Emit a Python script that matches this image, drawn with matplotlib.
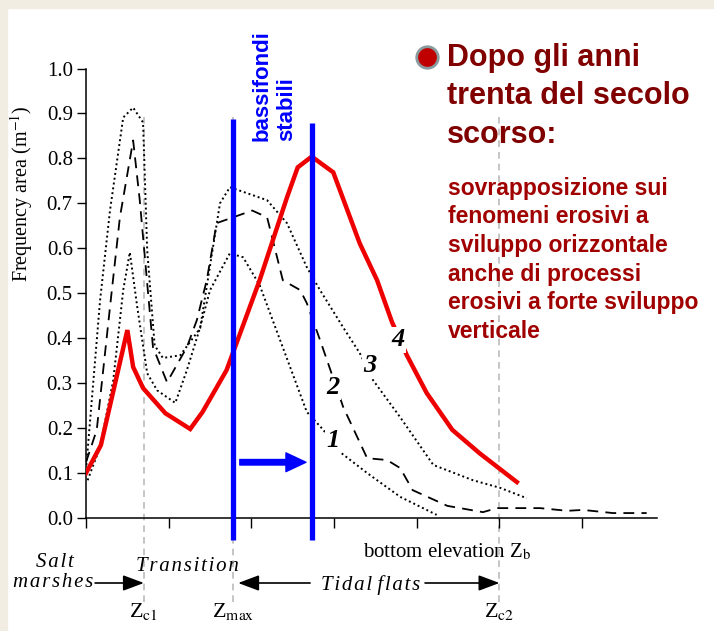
import numpy as np
import matplotlib.pyplot as plt
from matplotlib.lines import Line2D
from matplotlib.patches import Rectangle

plt.rcParams['mathtext.fontset'] = 'stix'
SERIF = 'Liberation Serif'
SANS = 'Liberation Sans'
SERIF_LIST = [SERIF, 'DejaVu Serif']

# bottom elevation, one tick = one unit
z_c1, z_max, z_c2 = 0.70, 1.78, 5.0
stable_lo, stable_hi = 1.78, 2.73

# curve 1 (dotted)
x1 = [0.02, 0.17, 0.33, 0.45, 0.53, 0.62, 0.74, 0.86, 1.08, 1.22, 1.38, 1.50,
      1.74, 1.90, 2.10, 2.67, 2.87, 3.07, 3.40, 3.80, 4.24]
y1 = [0.084, 0.158, 0.307, 0.507, 0.591, 0.469, 0.322, 0.284, 0.256, 0.329,
      0.424, 0.507, 0.589, 0.580, 0.518, 0.236, 0.196, 0.147, 0.100, 0.047, 0.007]

# curve 2 (dashed)
x2 = [0.0, 0.13, 0.29, 0.41, 0.57, 0.65, 0.74, 0.81, 0.98, 1.22, 1.34, 1.46,
      1.58, 1.78, 2.01, 2.19, 2.38, 2.59, 2.67, 2.83, 3.11, 3.40, 3.64, 3.80,
      3.95, 4.37, 4.80, 4.97, 5.49, 5.82, 6.01, 6.37, 6.78]
y2 = [0.124, 0.196, 0.469, 0.669, 0.840, 0.707, 0.522, 0.380, 0.302, 0.380,
      0.440, 0.529, 0.656, 0.669, 0.684, 0.669, 0.529, 0.507, 0.478, 0.396,
      0.247, 0.133, 0.129, 0.111, 0.062, 0.027, 0.013, 0.022, 0.022, 0.016,
      0.018, 0.011, 0.011]

# curve 3 (dotted)
x3 = [0.0, 0.17, 0.29, 0.45, 0.57, 0.69, 0.74, 0.83, 0.93, 1.14, 1.38, 1.62,
      1.74, 2.19, 2.43, 2.67, 2.83, 3.11, 3.31, 3.47, 3.80, 4.20, 4.68, 5.01, 5.33]
y3 = [0.107, 0.484, 0.684, 0.891, 0.913, 0.880, 0.596, 0.384, 0.356, 0.362,
      0.422, 0.700, 0.736, 0.707, 0.656, 0.558, 0.507, 0.424, 0.367, 0.307,
      0.224, 0.118, 0.084, 0.067, 0.044]

# curve 4 (red, after the 1930s)
x4 = [0.0, 0.18, 0.50, 0.57, 0.69, 0.96, 1.26, 1.41, 1.70, 2.10, 2.43, 2.56,
      2.73, 2.99, 3.31, 3.52, 3.70, 3.88, 4.12, 4.43, 4.76, 5.21]
y4 = [0.100, 0.162, 0.418, 0.336, 0.289, 0.233, 0.198, 0.236, 0.329, 0.529,
      0.713, 0.780, 0.804, 0.769, 0.611, 0.529, 0.436, 0.362, 0.278, 0.196,
      0.144, 0.080]

curve_labels = ['1', '2', '3', '4']
label_x = [2.99, 2.99, 3.43, 3.77]
label_y = [0.173, 0.291, 0.340, 0.396]

title_lines = ['Dopo gli anni', 'trenta del secolo', 'scorso:']
body_lines = ['sovrapposizione sui', 'fenomeni erosivi a', 'sviluppo orizzontale',
              'anche di processi', 'erosivi a forte sviluppo', 'verticale']


def spaced(s):
    # the original italic labels are set with wide letter spacing
    return '\u200a'.join(s)


W, H = 714, 631
fig = plt.figure(figsize=(W / 100, H / 100), dpi=100)
fig.patch.set_facecolor('white')
# beige frame strips
fig.add_artist(Rectangle((0, 0), 7 / W, 1, transform=fig.transFigure, color='#F2EDE3', zorder=0))
fig.add_artist(Rectangle((0, 1 - 8 / H), 1, 8 / H, transform=fig.transFigure, color='#F2EDE3', zorder=0))

ax = fig.add_axes([86 / W, 1 - 518 / H, 571 / W, 449.5 / H])
ax.set_xlim(0, 6.905)
ax.set_ylim(0, 1.0)
for s in ['top', 'right']:
    ax.spines[s].set_visible(False)
for s in ['left', 'bottom']:
    ax.spines[s].set_linewidth(1.1)
ax.set_yticks(np.arange(0, 1.01, 0.1))
ax.set_yticklabels(['%.1f' % v for v in np.arange(0, 1.01, 0.1)], fontfamily=SERIF, fontsize=15)
ax.set_xticks(range(7))
ax.set_xticklabels([])
ax.tick_params(axis='y', length=6.5, width=1, pad=3)
ax.tick_params(axis='x', length=7, width=1)

tr = ax.get_xaxis_transform()

# grey marker lines for Zc1, Zmax, Zc2
for z in [z_c1, z_max, z_c2]:
    ax.plot([z, z], [-0.187, 0.892], transform=tr, color='#BBBBBB', lw=1.2,
            dashes=(4, 3), clip_on=False, zorder=1)

ax.plot(x1, y1, color='black', lw=1.4, ls=(0, (1, 1.5)), zorder=3)
ax.plot(x2, y2, color='black', lw=1.3, ls=(0, (6, 4)), zorder=3)
ax.plot(x3, y3, color='black', lw=1.4, ls=(0, (1, 1.5)), zorder=3)
ax.plot(x4, y4, color='#EE0000', lw=3.2, zorder=4, solid_joinstyle='miter')

for lab, lx, ly in zip(curve_labels, label_x, label_y):
    ax.text(lx, ly, lab, fontfamily=SERIF, fontweight='bold', fontstyle='italic',
            fontsize=19, ha='center', va='center', zorder=5,
            bbox=dict(facecolor='white', edgecolor='none', pad=1))

# stable shallows band
ax.plot([stable_lo, stable_lo], [-0.049, 0.888], transform=tr, color='#0000FF',
        lw=3.8, clip_on=False, zorder=6, solid_capstyle='butt')
ax.plot([stable_hi, stable_hi], [-0.049, 0.879], transform=tr, color='#0000FF',
        lw=3.8, clip_on=False, zorder=6, solid_capstyle='butt')
ax.annotate('', xy=(stable_hi - 0.07, 0.124), xytext=(stable_lo + 0.08, 0.124),
            arrowprops=dict(arrowstyle='simple,head_length=0.8,head_width=0.75,tail_width=0.22',
                            color='#0000FF', mutation_scale=18, shrinkA=0, shrinkB=0),
            zorder=6)
fig.text(262 / W, 1 - 141 / H, 'bassifondi', rotation=90, ha='center', va='bottom',
         color='#0000FF', fontfamily=SANS, fontweight='bold', fontsize=16)
fig.text(287 / W, 1 - 141 / H, 'stabili', rotation=90, ha='center', va='bottom',
         color='#0000FF', fontfamily=SANS, fontweight='bold', fontsize=16)

fig.text(22 / W, 1 - 194 / H, 'Frequency area (m$^{-1}$)', rotation=90, ha='center',
         va='center', fontfamily=SERIF, fontsize=14.5)

# bottom annotations
ax.text(4.36, -0.076, 'bottom elevation Z$_\\mathrm{b}$', transform=tr, ha='center',
        va='center', fontfamily=SERIF, fontsize=15)
ax.text(-0.375, -0.100, spaced('Salt'), transform=tr, ha='center', va='center',
        fontfamily=SERIF_LIST, fontstyle='italic', fontsize=15)
ax.text(0.085, -0.144, spaced('marshes'), transform=tr, ha='right', va='center',
        fontfamily=SERIF_LIST, fontstyle='italic', fontsize=15)
ax.text(1.227, -0.109, spaced('Transition'), transform=tr, ha='center', va='center',
        fontfamily=SERIF_LIST, fontstyle='italic', fontsize=15)
ax.text(3.44, -0.150, spaced('Tidal') + ' ' + spaced('flats'), transform=tr, ha='center',
        va='center', fontfamily=SERIF_LIST, fontstyle='italic', fontsize=15)
arrow_kw = dict(arrowstyle='-|>,head_length=0.8,head_width=0.3', color='black', lw=1.2,
                mutation_scale=16, shrinkA=0, shrinkB=0)
for x_from, x_to in [(0.11, z_c1), (2.71, z_max + 0.06), (4.10, z_c2)]:
    ax.annotate('', xy=(x_to, -0.1446), xytext=(x_from, -0.1446), xycoords=tr,
                textcoords=tr, arrowprops=arrow_kw, annotation_clip=False)
for z, lab in [(z_c1, 'Z$_\\mathrm{c1}$'), (z_max, 'Z$_\\mathrm{max}$'), (z_c2, 'Z$_\\mathrm{c2}$')]:
    ax.text(z, -0.209, lab, transform=tr, ha='center', va='center',
            fontfamily=SERIF, fontsize=16)

# right-hand text
fig.add_artist(Line2D([427 / W], [1 - 57 / H], marker='o', markersize=15.5,
                      markerfacecolor='#C00000', markeredgecolor='#8A9BA0',
                      markeredgewidth=2, transform=fig.transFigure))
for i, line in enumerate(title_lines):
    fig.text(447 / W, 1 - (58 + 38.5 * i) / H, line, ha='left', va='center',
             color='#800000', fontfamily=SANS, fontweight='bold', fontsize=22)
for i, line in enumerate(body_lines):
    fig.text(448 / W, 1 - (188 + 28.7 * i) / H, line, ha='left', va='center',
             color='#A00000', fontfamily=SANS, fontweight='bold', fontsize=16.5)

fig.savefig('out.png', dpi=100)
